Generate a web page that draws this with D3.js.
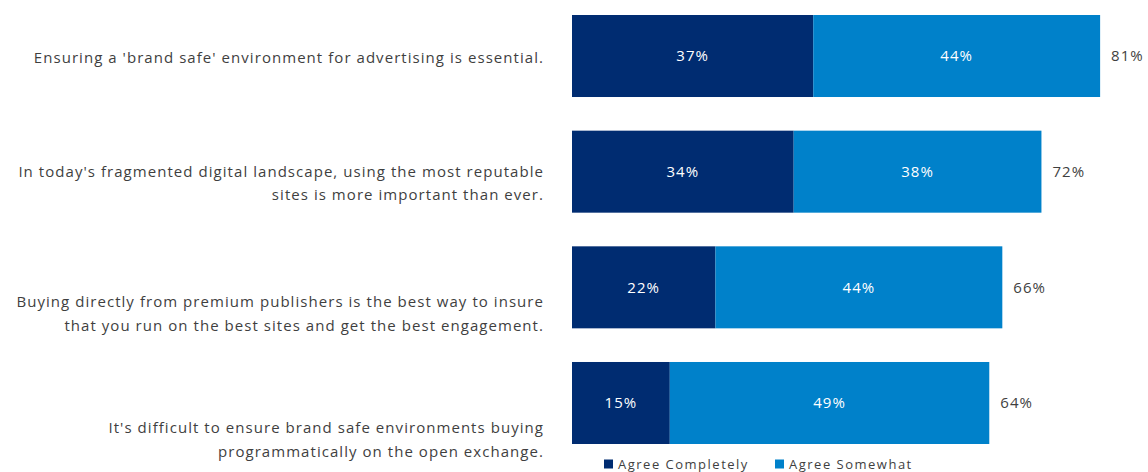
<!DOCTYPE html>
<html>
<head>
<meta charset="utf-8">
<script src="https://cdn.jsdelivr.net/npm/d3@7"></script>
<style>
  html, body { margin: 0; padding: 0; background: #fff; }
  svg { display: block; font-family: "Open Sans", "Noto Sans", sans-serif; }
</style>
</head>
<body>
<svg id="chart" width="1148" height="472"></svg>
<script>
// Survey statements (each entry is one or more text lines)
const statements = [
  ["Ensuring a 'brand safe' environment for advertising is essential."],
  ["In today's fragmented digital landscape, using the most reputable", "sites is more important than ever."],
  ["Buying directly from premium publishers is the best way to insure", "that you run on the best sites and get the best engagement."],
  ["It's difficult to ensure brand safe environments buying", "programmatically on the open exchange."]
];
const agreeCompletely = [37, 34, 22, 15];
const agreeSomewhat   = [44, 38, 44, 49];
const totals          = [81, 72, 66, 64];
const seriesNames     = ["Agree Completely", "Agree Somewhat"];

// Layout
const colors = ["#002c71", "#0081ca"];
const textColor = "#3f3f3f";
const labelShift = [2, 11.5, 26.5, 37];   // vertical nudge of each statement block
const lineGap = 23.5;
const fontSize = 15;
const spacing = "1.05px";

const svg = d3.select("#chart");

const x = d3.scaleLinear().domain([0, 100]).range([572, 1224]);
const y = d3.scaleBand()
  .domain(d3.range(statements.length))
  .range([15, 444])
  .paddingInner(0.291)
  .paddingOuter(0);

const rows = statements.map((s, i) => ({
  i, lines: s,
  values: [agreeCompletely[i], agreeSomewhat[i]],
  total: totals[i]
}));

// Stacked segments
const stack = d3.stack().keys([0, 1]).value((d, k) => d.values[k]);
const layers = stack(rows);

const g = svg.append("g");
layers.forEach((layer, k) => {
  const lg = g.append("g");
  lg.selectAll("rect")
    .data(layer)
    .join("rect")
    .attr("x", d => x(d[0]))
    .attr("width", d => x(d[1]) - x(d[0]))
    .attr("y", (d, i) => y(i))
    .attr("height", y.bandwidth())
    .attr("fill", colors[k]);
  lg.selectAll("text")
    .data(layer)
    .join("text")
    .attr("x", d => (x(d[0]) + x(d[1])) / 2)
    .attr("y", (d, i) => y(i) + y.bandwidth() / 2)
    .attr("dy", "0.35em")
    .attr("text-anchor", "middle")
    .attr("fill", "#fff")
    .attr("font-size", fontSize)
    .attr("letter-spacing", spacing)
    .text((d, i) => rows[i].values[k] + "%");
});

// Totals at the end of each bar
g.selectAll("text.total")
  .data(rows)
  .join("text")
  .attr("class", "total")
  .attr("x", d => x(d.total) + 11)
  .attr("y", d => y(d.i) + y.bandwidth() / 2)
  .attr("dy", "0.35em")
  .attr("fill", textColor)
  .attr("font-size", fontSize)
  .attr("letter-spacing", spacing)
  .text(d => d.total + "%");

// Statement labels, right-aligned left of the bars
const cats = svg.append("g");
rows.forEach(d => {
  const cy = y(d.i) + y.bandwidth() / 2 + labelShift[d.i];
  const n = d.lines.length;
  d.lines.forEach((line, j) => {
    cats.append("text")
      .attr("x", 544)
      .attr("y", cy + (j - (n - 1) / 2) * lineGap)
      .attr("dy", "0.35em")
      .attr("text-anchor", "end")
      .attr("fill", textColor)
      .attr("font-size", fontSize)
      .attr("letter-spacing", spacing)
      .text(line);
  });
});

// Legend
const legend = svg.append("g").attr("transform", "translate(604,464)");
const legendX = [0, 171];
seriesNames.forEach((name, k) => {
  const item = legend.append("g").attr("transform", `translate(${legendX[k]},0)`);
  item.append("rect").attr("x", 0).attr("y", -4.5).attr("width", 9).attr("height", 9).attr("fill", colors[k]);
  item.append("text")
    .attr("x", 14)
    .attr("y", 0)
    .attr("dy", "0.35em")
    .attr("fill", textColor)
    .attr("font-size", 13)
    .attr("letter-spacing", "1.5px")
    .text(name);
});
</script>
</body>
</html>
